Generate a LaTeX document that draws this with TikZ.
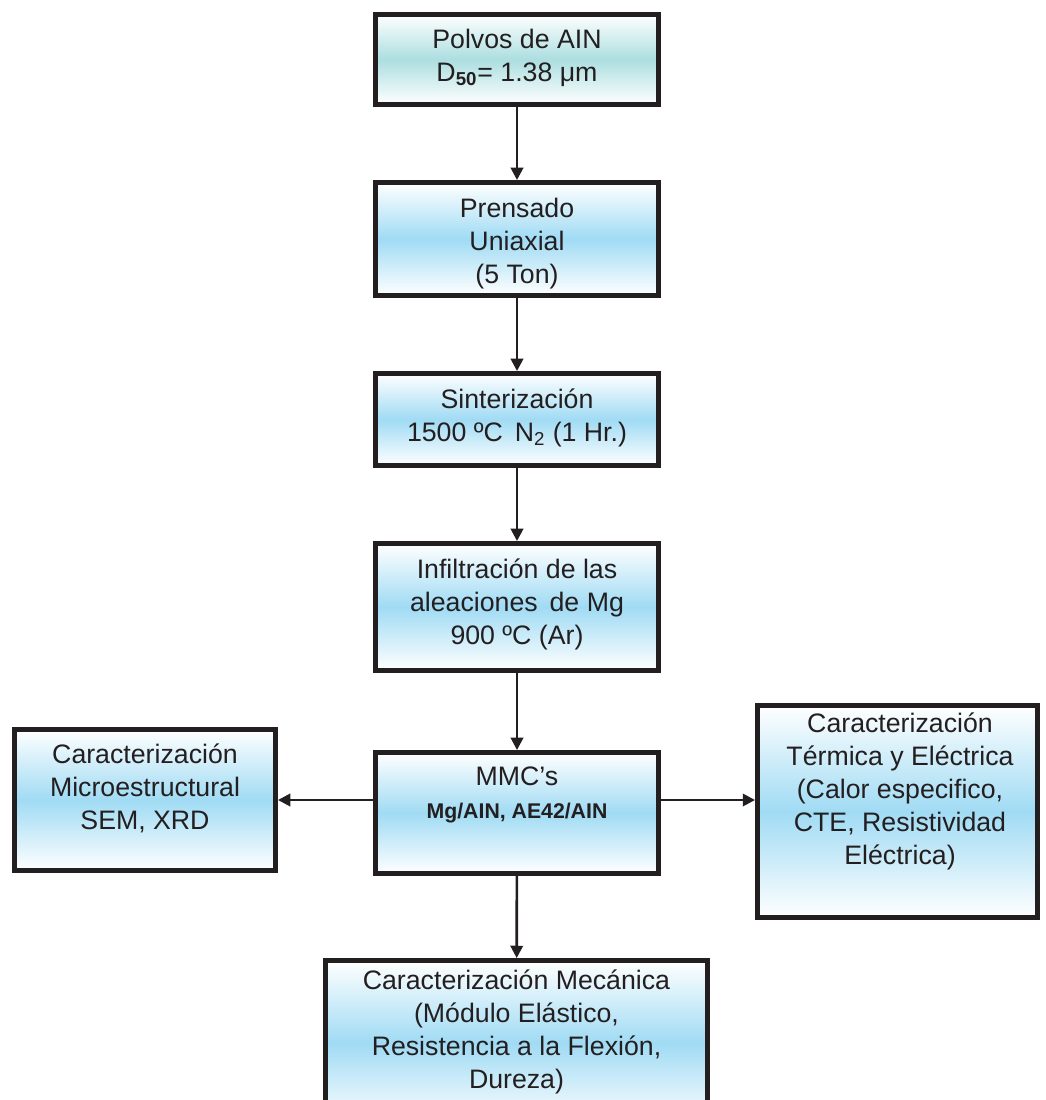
\documentclass[tikz,border=0pt]{standalone}
\usepackage{fontspec}
\setmainfont{Liberation Sans}
\usepackage{xcolor}
\usetikzlibrary{arrows.meta,positioning}

\definecolor{celeste}{RGB}{160,219,244}
\definecolor{verdeagua}{RGB}{172,222,224}
\definecolor{tinta}{RGB}{35,31,32}

\begin{document}
\begin{tikzpicture}[
    caja/.style={draw=tinta, line width=2.8pt, shape=rectangle, top color=white, bottom color=white, middle color=celeste, minimum width=5.66cm, inner sep=0pt},
    texto/.style={align=center, text=tinta, font=\fontsize{15.2}{18.8}\selectfont, inner sep=0pt},
    flecha/.style={draw=tinta, line width=1.5pt, -{Triangle[length=7pt,width=7pt]}}]
    \useasboundingbox (0,0) rectangle (20.9,-22);

    % cajas del proceso
    \node[caja, middle color=verdeagua, minimum height=1.8cm] (polvos) at (10.34,-1.19) {};
    \node[caja, minimum height=2.26cm] (prensado) at (10.34,-4.78) {};
    \node[caja, minimum height=1.84cm] (sinter) at (10.34,-8.39) {};
    \node[caja, minimum height=2.54cm] (infiltra) at (10.34,-12.14) {};
    \node[caja, minimum height=2.42cm] (mmc) at (10.34,-16.26) {};

    % cajas de caracterizacion
    \node[caja, minimum width=5.22cm, minimum height=2.82cm] (micro) at (2.9,-16.0) {};
    \node[caja, minimum width=5.6cm, minimum height=4.24cm] (termica) at (17.95,-16.23) {};
    \node[caja, minimum width=7.64cm, minimum height=3.29cm] (mecanica) at (10.33,-20.855) {};

    % textos
    \node[texto] (polvos-t) at (10.34,-1.16) {Polvos de AIN\\D\textsubscript{\bfseries 50}= 1.38 μm};
    \node[texto] (prensado-t) at (10.34,-4.88) {Prensado\\Uniaxial\\(5 Ton)};
    \node[texto] (sinter-t) at (10.34,-8.36) {Sinterización\\1500 ºC\, N\textsubscript{2} (1 Hr.)};
    \node[texto] (infiltra-t) at (10.34,-12.08) {Infiltración de las\\aleaciones\, de Mg\\900 ºC (Ar)};
    \node[texto] (mmc-t) at (10.34,-15.9) {MMC’s\\{\fontsize{12.1}{15}\selectfont\bfseries Mg/AIN, AE42/AIN}};
    \node[texto] (micro-t) at (2.9,-15.76) {Caracterización\\Microestructural\\SEM, XRD};
    \node[texto] (termica-t) at (18.0,-15.82) {Caracterización\\Térmica y Eléctrica\\(Calor especifico,\\CTE, Resistividad\\Eléctrica)};
    \node[texto] (mecanica-t) at (10.33,-20.64) {Caracterización Mecánica\\(Módulo Elástico,\\Resistencia a la Flexión,\\Dureza)};

    \draw[flecha] (polvos) -- (prensado);
    \draw[flecha] (prensado) -- (sinter);
    \draw[flecha] (sinter) -- (infiltra);
    \draw[flecha] (infiltra) -- (mmc);
    \draw[flecha] (mmc) -- (mecanica);
    \draw[flecha] (mmc.west |- micro.east) -- (micro.east);
    \draw[flecha] (mmc.east |- micro.east) -- (termica.west |- micro.east);
\end{tikzpicture}
\end{document}
